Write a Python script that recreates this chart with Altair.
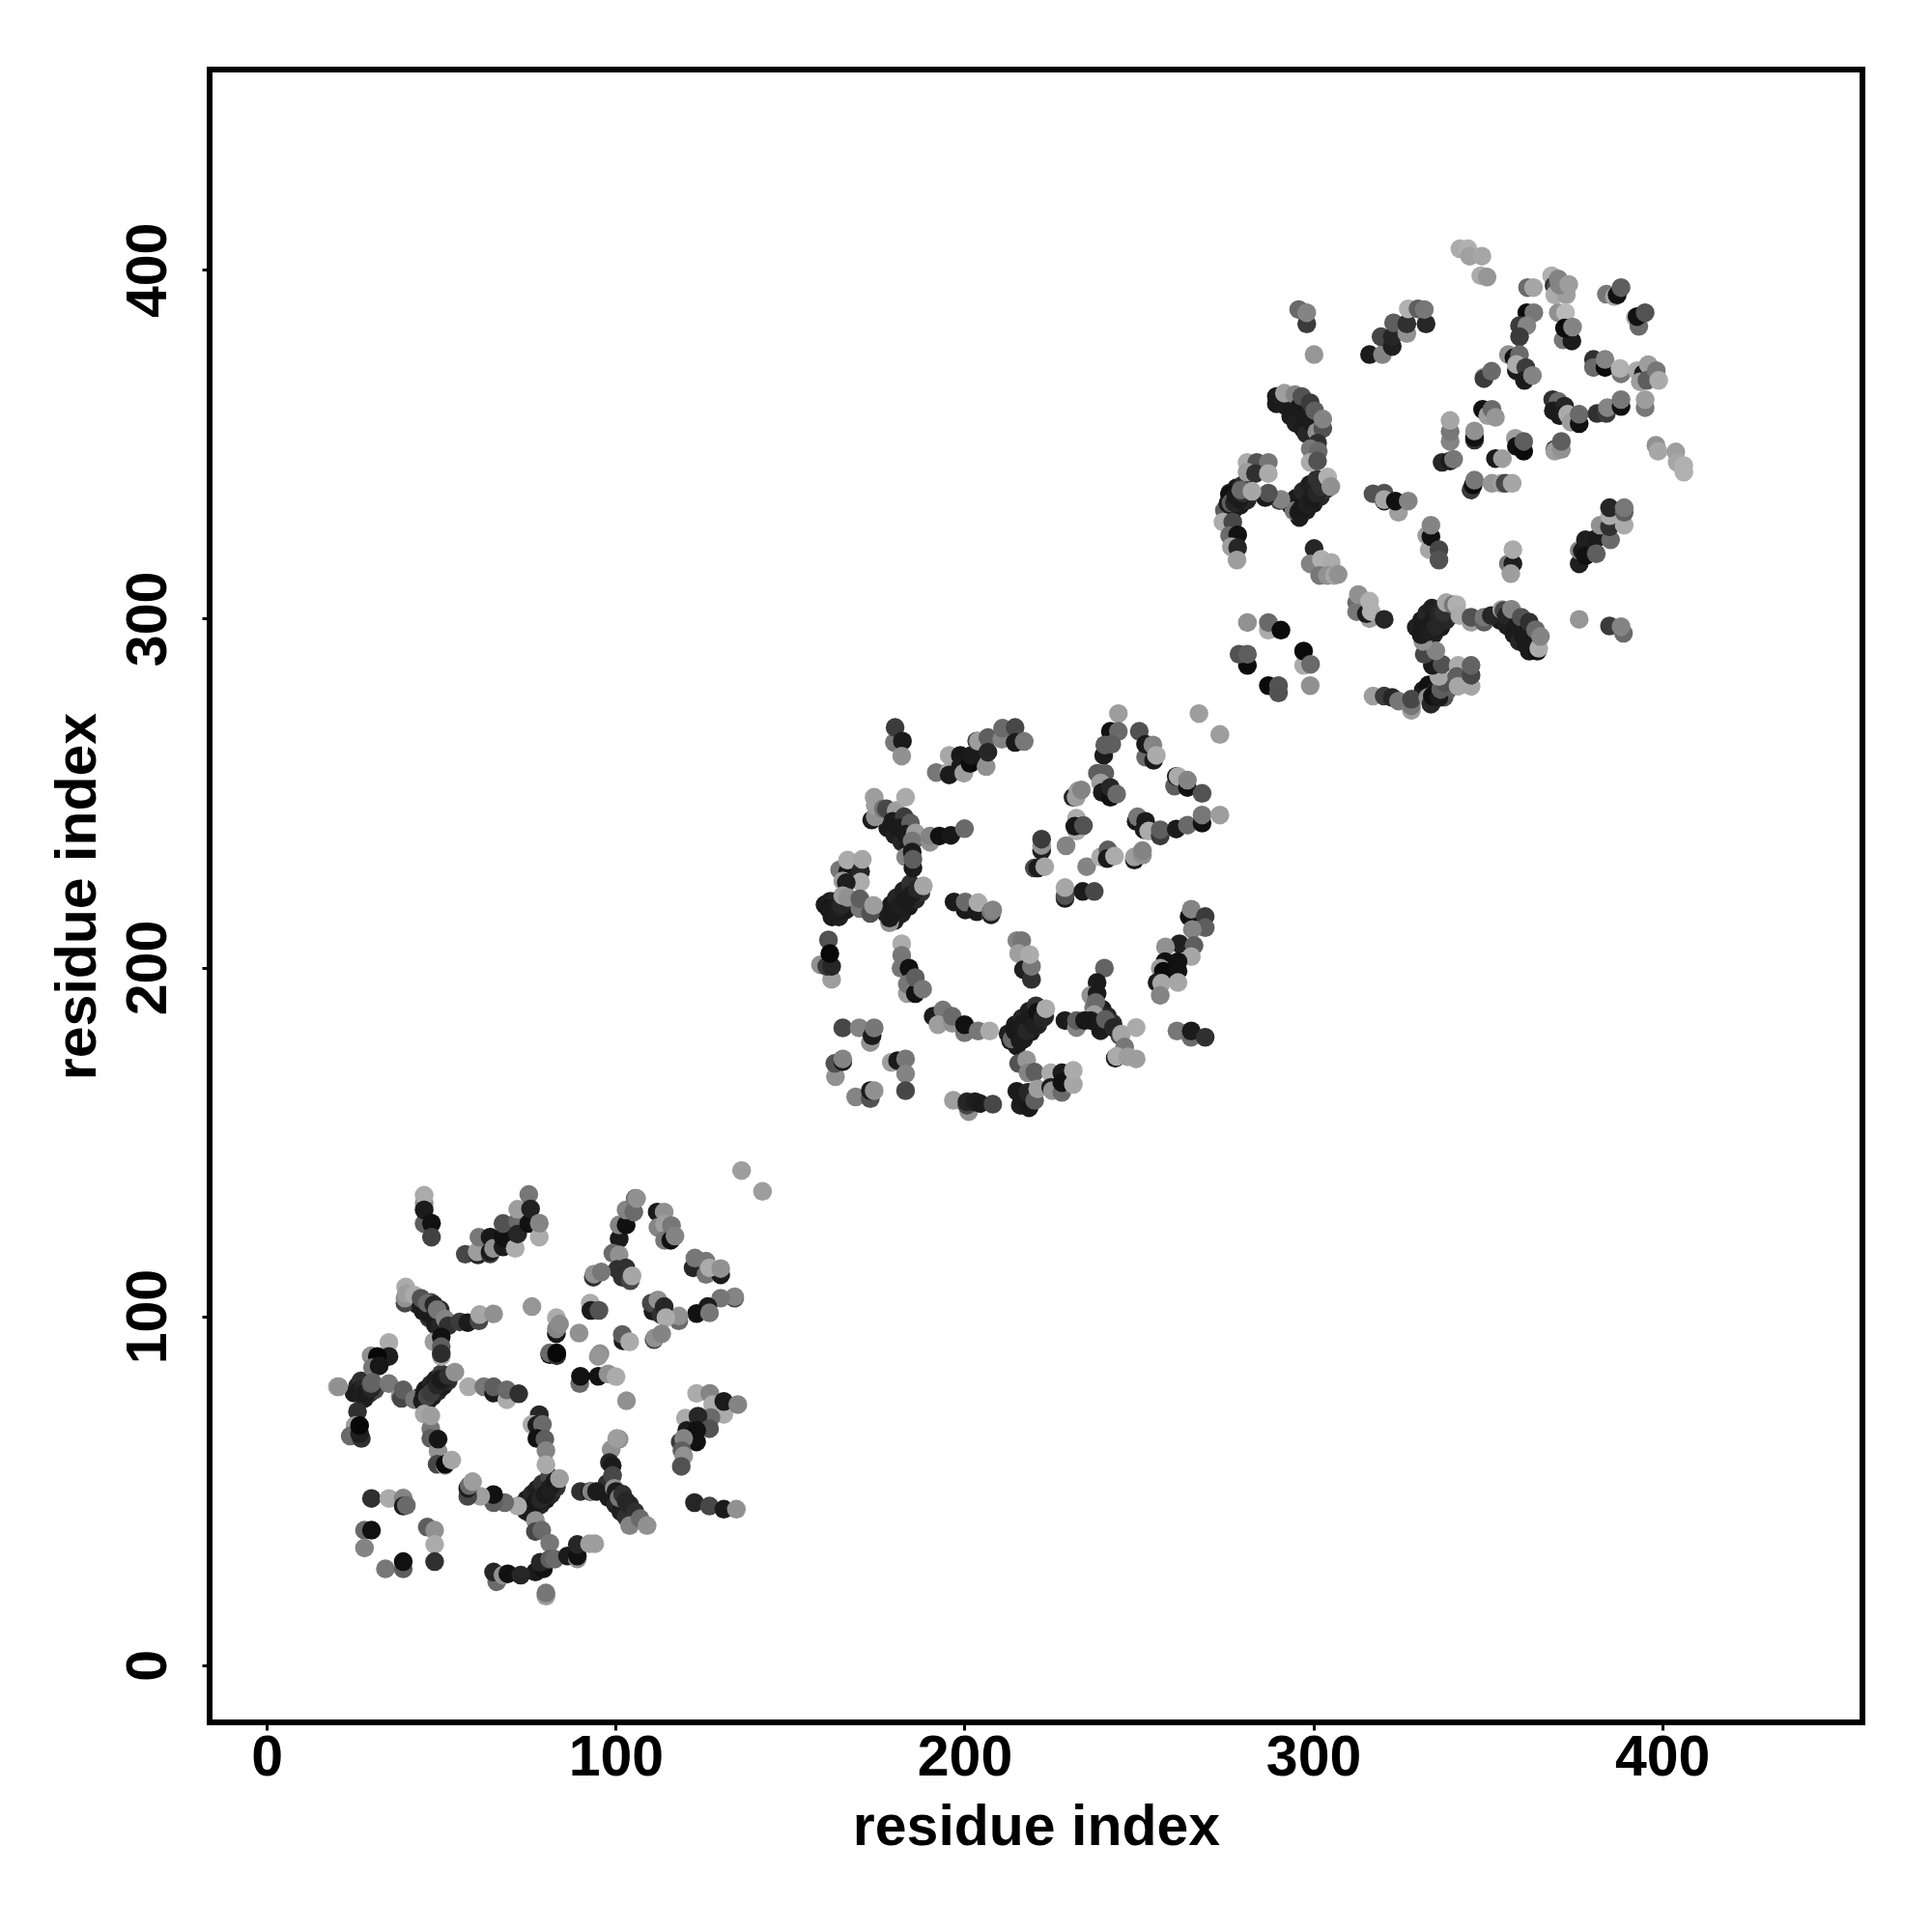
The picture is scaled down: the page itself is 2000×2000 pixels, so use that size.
import altair as alt
import pandas as pd

tick_values = [0, 100, 200, 300, 400]
axis_title = "residue index"

# (residue x, residue y, lightness of the grey)
under_points = [
(46,75.5,.12),(47.5,77,.1),(49,78.5,.15),(50.5,80,.1),(52,81.5,.2),(44,77,.2),(45.5,79,.1),(47,80.5,.15),(48.5,82,.12),(50,83.5,.25),
(75.5,43.5,.12),(77,45,.1),(78.5,46,.15),(80,47.5,.1),(81.5,49,.15),(83,51,.2),(73,46,.15),(74.5,47.5,.1),(76,49,.15),(77.5,50.5,.12),(79,52,.2),(81,54,.3),
(25,78,.1),(26,80,.15),(28,76.5,.12),(29.5,78,.2),(31,79,.3),(27,81.5,.2),
(43,103.5,.15),(44.8,101.5,.1),(46.5,99.5,.2),(48.3,97.5,.12),(47,104,.3),(48.8,100,.2),(50.5,99.5,.15),
(160,218,.1),(161.5,219,.12),(163,219,.15),(162,214.5,.1),(164,214.5,.12),(166,216.5,.1),
(180,213.5,.1),(182,215.5,.12),(184,217.5,.1),(186,219.5,.15),(187.5,221.5,.2),(177.5,215.5,.12),(179,218,.1),(180.5,220,.15),(182.5,222,.12),(184.5,224,.2),
(178,240,.1),(180,238,.12),(182,236,.15),(184,234.5,.1),(181.5,241.5,.15),(186,237,.2),
(215,177.5,.1),(217,179.5,.12),(219,181.5,.1),(221,183.5,.15),(223,186,.2),(212.5,181,.12),(214.5,183.5,.1),(216.5,185.5,.15),(218.5,187.5,.12),(220.5,189,.2),
(215,164.5,.1),(216,160.5,.12),(218.5,159.8,.1),(219.5,163,.2),
(239.5,188,.1),(241,186,.15),(242.5,184,.2),(244.5,180.5,.3),(237,188.5,.5),
(296,329,.1),(298,331,.12),(300,333,.1),(302,335,.15),(303.5,337,.2),(293.5,332.5,.12),(295,334.5,.1),(297,336.5,.15),(299,338.5,.12),(301,340,.2),
(274.5,331,.4),(275.5,333,.1),(277,331,.12),(279,332.5,.1),(281,334,.15),(276,336,.15),(278,337.5,.1),(280,338.5,.2),
(332.5,294,.1),(334.5,295.5,.12),(336.5,297.5,.1),(338,299.5,.15),(339.5,301,.2),(329.5,297.5,.12),(331,299.5,.1),(332.5,301.5,.15),(334,303,.12),
(331.5,279.5,.1),(333,281,.05),(335,279.5,.1),(337.5,277.5,.35),(338.5,279.5,.4),
(293.5,358,.1),(295,356,.12),(297,354.5,.1),(298,353,.15),(292,361,.1),
(353.5,299.5,.1),(355.5,298,.12),(357.5,295.5,.1),(359,293.5,.15),(361,292.5,.1),
(97.5,52,.2),(98,48,.1),(100,46,.15),(101.5,44,.12),(103,42.5,.2),
]

cluster_one = [
(45.1,126.6,.4),(45.1,132.4,.6),(45.1,134.7,.7),(45.1,130.5,.1),(47.2,126.7,.05),(47.2,122.7,.28),
(56.9,117.8,.3),(60.5,117.6,.15),(60.3,118.5,.65),(60.8,122.7,.5),(64.0,117.9,.25),(64.0,118.5,.1),(64.0,122.7,.08),(65,119.5,.6),(67.7,119.9,.1),(67.7,122.7,.05),(67.7,126.6,.35),(71.2,119.5,.7),(71.9,127.3,.45),(71.9,123.6,.15),(71.9,130.7,.65),(75.1,134.9,.5),(75.1,126.6,.05),(75.6,130.8,.13),(78.1,122.7,.7),(78.1,126.7,.55),
(39.6,103.8,.3),(39.8,108.4,.7),(39.6,105.2,.6),(40,106.5,.65),(42.3,106.1,.7),(44.2,102.8,.1),(44.2,105.2,.35),(46,101,.1),(46,103.8,.45),(47.9,99.6,.1),(47.9,103.3,.15),(49.7,97.3,.15),(49.7,101.9,.18),(48.8,101.9,.5),(51.1,99.2,.55),(52,97.3,.2),(55.3,98.4,.25),(57.6,98.2,.1),(60.8,98.7,.3),(61,100.5,.68),(65,100.7,.6),
(47.9,92.7,.65),(50,94.1,.05),(50,91.3,.4),(50,88.5,.7),(50,89.3,.18),
(76,102.8,.62),(83,95,.08),(83,99.6,.7),(83,96.4,.55),(83.9,97.8,.58),(81.1,89,.05),(81.1,89.5,.45),(83.1,88.7,.2),(83.1,89.5,.02),
(20.2,79.8,.7),(20.6,79.8,.6),(29.9,88.7,.6),(35,92.5,.7),(35,88.5,.12),(31.7,88.5,.02),(30.3,85.3,.5),(32.2,85.8,.08),
(26.2,78.4,.1),(27.6,79.3,.15),(27.1,77.5,.12),(28.5,77.9,.1),(29.9,79.3,.15),(29.9,80.7,.4),(30.3,81.1,.42),(35,80.7,.5),
(26,72.7,.2),(25.3,68.7,.65),(23.9,65.7,.45),(27.1,65,.2),(26.6,66.4,.12),(26.6,68.7,.02),
(38.2,77,.6),(38.6,76.5,.3),(39.1,78.9,.4),(42.3,76.1,.5),(44.6,75.6,.1),(45.1,77.5,.08),(46,77,.3),(47.4,78.9,.1),(47,78,.25),(48.8,80.3,.15),(50.6,81.7,.12),(49.7,82,.1),(52,83,.2),(53.9,84,.6),
(45.1,72,.68),(47,67.8,.5),(47,71.5,.65),(47,65,.4),(49.1,61.3,.6),(49.1,64.8,.07),(48.8,57.6,.3),(51.1,57.2,.7),(51.1,57.6,.03),(53,58.8,.68),
(57.8,79.8,.7),(62.2,79.8,.5),(65,78,.1),(65,79.8,.4),(68.8,76.1,.7),(68.8,78.9,.45),(72.2,77.8,.2),
(78.1,71.8,.15),(76,69,.7),(77.4,68.8,.1),(79,69,.45),(77.4,65,.05),(79.7,64.8,.4),(80,61.5,.55),(80,57.5,.7),
(74.2,44.3,.1),(75.6,45.2,.1),(77,46.6,.08),(78.4,47.5,.15),(79.7,48.9,.1),(81.1,50.7,.12),(82.5,52.6,.1),(83.9,53.5,.65),(71.9,45.6,.7),(68.2,46.6,.45),(65,46.6,.4),(65,48.9,.05),(61.3,48.4,.65),(57.6,48.4,.3),(57.6,50.7,.1),(58,51.5,.45),(59,52.6,.65),
(77,41.5,.6),(77,38.3,.3),(78.8,38.7,.45),(81.1,35,.5),(77,26.7,.1),(79.3,27.6,.05),(78.4,29.5,.15),(81.1,30.4,.4),(82.5,30.4,.45),(86.2,31.3,.1),(89,30.5,.6),(89,31.3,.05),(89,34.6,.15),(92.5,34.8,.65),(94,34.8,.65),(80,19.8,.65),(80,20.7,.5),
(65.9,23.9,.45),(65,26.7,.15),(67.7,25.8,.6),(69.1,26.2,.05),(72.8,25.8,.15),
(30,47.8,.2),(35,47.8,.7),(39.1,47.9,.55),(39.1,45.6,.1),(40,45.8,.45),(28,38.7,.45),(30,38.7,.05),(28,33.6,.55),(34,27.6,.5),(39.1,27.6,.4),(39.1,29.7,.05),(46,39.6,.4),(48.1,38.7,.6),(48.1,34.6,.7),(48.1,29.7,.2),
(136.1,141.8,.65),(142.1,135.8,.65),
(101,122.2,.1),(101,126.2,.55),(103,126.2,.05),(103,130.5,.55),(105.2,129.9,.45),(105.6,133.8,.45),(106,133.8,.6),
(111.9,129.9,.1),(112.1,125.5,.55),(113.9,129.9,.6),(114,126.4,.65),(116,126,.5),(114,121.8,.5),(115.8,121.8,.05),(117,123,.55),
(99.2,118.1,.45),(101,117.6,.6),(100.5,113.5,.2),(93.6,111.2,.2),(93.8,112.1,.6),(95.9,112.7,.5),(102.9,113.9,.2),(101.9,111.2,.2),(104.2,110.2,.3),(104.7,111.6,.68),
(122.2,113.9,.15),(122.7,116.7,.5),(125.9,112,.5),(125.9,115.8,.5),(130.1,111.9,.1),(126.9,113.9,.7),(130.1,113.7,.6),
(134.1,105.2,.25),(134.1,105.6,.55),(130.1,105.2,.5),(126.4,102.8,.1),(123.2,100.8,.05),(126.9,101,.5),
(118.1,98.7,.45),(118.1,100.1,.6),(110.7,101.5,.1),(110.2,103.8,.3),(112.1,104.7,.6),(113,100.5,.2),(113.9,102.8,.15),(114.4,99.6,.7),
(111,93.3,.3),(111.2,93.8,.6),(113.2,95,.55),(102.1,93,.1),(101.9,94.8,.4),(104,92.7,.7),
(92.7,103.8,.7),(92.9,101.7,.1),(95.2,101.7,.35),(89.5,95.2,.6),(95.5,89.3,.6),(95,88.5,.62),
(89.7,80.7,.45),(89.9,82.8,.05),(95,82.8,.05),(97.8,83.5,.6),(100.1,82.7,.7),(103.1,75.8,.6),(101,64.8,.6),
(123.2,77.9,.7),(127,77.9,.55),(131,71.9,.7),(127.8,74.7,.7),(131,75.6,.1),(135,74.7,.55),(120,70.8,.7),(127.3,71,.45),(123.6,71.4,.15),(126.9,67.8,.35),(120.4,67.3,.1),(123.2,67.3,.05),(123.2,64,.05),(118.5,64,.25),(119.5,65,.55),(119,61.5,.4),(119.5,60,.6),(118.8,57,.35),
(122.6,46.6,.15),(126.9,45.6,.3),(131,44.7,.1),(134.6,44.7,.6),
(89.9,49.8,.2),(92.7,49.8,.1),(93.1,49.8,.55),(94.5,49.8,.1),(98.7,61.8,.6),(100.3,65,.65),(98.2,58.1,.15),(99,57.2,.1),(99.1,54.4,.3),(99.6,50.7,.6),(100.1,49.8,.1),(101,48,.5),(102,49,.2),(103,47,.15),(104,46,.15),(105.5,44,.2),(104,40,.55),(107,42,.45),(109,40,.6),
]

cluster_two = [
(179.9,264.5,.5),(180.1,268.8,.25),(182.2,264.9,.1),(182,260.6,.6),
(191.9,255.9,.5),(195.6,256.2,.7),(195.6,255.2,.1),(195.6,260.8,.68),(198.8,260.8,.08),(198.8,257.6,.1),(199.8,255.7,.65),(201.6,258.5,.03),(202,260.8,.1),(203.5,264.9,.3),(204,264.9,.65),(206.2,257.6,.6),(206.7,265.9,.4),(206.7,261.7,.15),(210.7,265.4,.55),(210.9,268.6,.45),(214.5,268.8,.3),(214.5,264.5,.1),(217.1,264.8,.5),
(173.4,242.3,.1),(174.4,243.2,.6),(174.4,246.5,.65),(174.1,248.8,.65),(176.7,245.5,.5),(177.6,245.5,.3),(180.4,245,.65),(183.1,248.8,.7),(179.4,241.9,.1),(182.7,243.2,.25),(181.3,240,.1),(184.5,241.4,.4),(183.1,238.2,.1),(185.9,238.6,.65),(185,236.3,.5),(190.1,235.9,.6),(190.1,237.7,.55),(192.8,237.7,.05),(196.1,237.9,.08),(200,239.8,.45),
(183.1,231.7,.55),(185.2,228.5,.1),(185,233.1,.1),(185.2,231,.4),
(164.2,228,.5),(166.5,227.5,.08),(166.5,230.8,.7),(170.2,227.5,.15),(170.7,231,.68),(170.2,224.5,.7),(165.1,224.8,.65),(166.1,224.3,.12),
(161,216.9,.08),(162,216.5,.1),(162.8,216,.1),(163.8,216.9,.12),(164.7,217.8,.15),(165.1,220.6,.65),(166.5,220.1,.6),(170,216.9,.5),(170,219.7,.4),(173,215.5,.35),(173.9,217.8,.65),
(178.5,212.8,.6),(178.5,214.2,.1),(179.9,216,.1),(181.3,217.9,.12),(183.1,219.2,.1),(185,221.1,.1),(186.4,222.5,.15),(188.2,223.4,.68),
(197,218.8,.1),(200.2,216.5,.1),(200.2,218.8,.45),(203.5,216,.1),(203.9,218.6,.7),(207.6,215,.65),(207.6,215.2,.1),(207.6,216,.5),(208.1,216.5,.55),
(158.7,200.8,.6),(161,207.9,.35),(161.9,196.6,.65),(160.5,200.3,.25),(161.9,200.3,.15),(161.4,204,.02),
(182,206.8,.7),(182,203.5,.5),(181.8,199.8,.5),(184.1,199.8,.05),(183.6,192.5,.65),(183.6,195.2,.5),(185.9,192.5,.05),(185.9,197.1,.4),(188,193.8,.5),
(215,207.7,.55),(216.4,207.7,.5),(215.5,204,.65),(216.9,199.4,.12),(219.2,196.6,.2),(219.2,200.3,.5),(218.7,203.7,.7),
(244.1,272.8,.65),(241.8,267.7,.05),(244.1,267.7,.45),(250.1,267.7,.35),(239.9,260.8,.1),(240.2,263.8,.4),(242.2,264,.4),(251.9,260.3,.45),(251.9,264,.1),(254,263.8,.55),(254.2,259.4,.1),(255,260.8,.7),
(267.2,272.8,.65),(273.2,266.8,.65),
(238.1,255.7,.4),(240.2,255.7,.4),(239,252.9,.65),(239.5,250.2,.1),(241.8,248.8,.05),(241.8,251.6,.15),(243.6,249.7,.45),
(231.1,248.8,.15),(232,248.8,.65),(232.5,250.6,.65),(233.5,250.9,.55),
(232.1,242.8,.7),(232.1,239.1,.7),(231.6,240.5,.08),(234.1,240.7,.35),(229.1,234.9,.55),(235,228.9,.55),
(239,231.7,.7),(241.1,233.7,.4),(240.9,231.2,.1),(243,231.9,.7),(248.7,230.8,.1),(248.7,231.7,.65),(251,232.2,.6),(251,233.5,.55),
(249.2,241.9,.1),(249.6,243.2,.5),(251.5,239.5,.1),(251.9,241.9,.1),(252.8,239.1,.7),(256.1,237.7,.25),(256.1,239.5,.4),(260.7,239.7,.1),(263.9,240.8,.45),(268.1,241.4,.05),(268.1,243.7,.5),(273.2,243.7,.65),
(260.2,252,.4),(260.7,254.8,.1),(261.2,254.8,.7),(263.9,251.6,.05),(263.9,253.7,.55),(268.1,249.9,.35),
(222.1,233.5,.12),(222.1,235,.6),(222.1,236.8,.25),(220,228.5,.3),(221,228.5,.1),(223,228.9,.68),
(228.8,219.8,.1),(228.8,220.6,.35),(228.8,222.9,.68),(233.9,221.8,.1),(237.2,221.8,.3),
(264.4,214.6,.05),(265,216.7,.55),(269,214.6,.25),(269,211.4,.4),(265.3,210.9,.55),(261.6,206.8,.12),(265.8,206.3,.4),(257.6,205.9,.6),(265,203.1,.68),(257.5,201.7,.05),(261.2,201.7,.05),(256.1,199.8,.65),(257,198.9,.03),(261.2,199,.05),(255.2,195.7,.1),(256.5,195.5,.68),(261.2,195.7,.68),(256.1,192,.55),
(260.9,181.8,.5),(264.9,180,.45),(265,181.8,.1),(269,180,.2),
(240.1,199.8,.42),(238,195.7,.1),(236.2,192,.6),(238,192.5,.1),(237.6,190,.45),(237.2,186.5,.65),(236.2,184.8,.1),(228.8,184.8,.1),(232.1,182.8,.55),(232.1,184.8,.4),(234.4,184.8,.08),(239,181.9,.1),(240.4,185.1,.4),(242.7,182.8,.15),(245,180.9,.68),(249.2,182.8,.7),(245.9,177.2,.5),(243.2,174,.1),(243.6,174.5,.7),(246.8,174.4,.65),(249.2,173.8,.65),
(191,186,.1),(193.8,187.8,.5),(192.4,183.6,.65),(196.5,184,.6),(196.5,186,.45),(200,181.3,.5),(200,183.6,.05),(203.9,181.8,.5),(207.2,181.8,.7),
(213.2,179,.1),(213.6,179.5,.45),(214.5,181.8,.08),(215.9,179,.1),(216.4,183.6,.1),(217.8,181.8,.15),(218.7,185.5,.1),(220.1,183.6,.12),(221,187.3,.05),(222.4,185.5,.15),(223.3,188.2,.7),
(215.5,172.5,.35),(217.8,173.5,.62),(218.2,169.8,.55),(220.1,170,.4),
(216.4,162.4,.1),(218.2,161.5,.08),(217.3,163.8,.1),(218.2,164.2,.15),(220.1,161.9,.4),(221,165.2,.65),
(224.7,169.8,.7),(224.7,165.6,.1),(225.2,164.7,.6),(227.9,164.2,.45),(227.9,169.8,.1),(227.9,167,.05),(231.2,166.5,.68),(231.2,170.5,.7),
(196.8,161.9,.65),(201.2,158.7,.6),(200.7,160.5,.3),(200.7,161.5,.15),(203,161.5,.12),(204.4,161,.1),(208.1,160.8,.3),
(165.1,182.7,.3),(169.8,182.7,.55),(173,178.5,.6),(173.5,180.4,.1),(174.1,182.7,.5),(163,168.7,.6),(162.8,172.5,.35),(165.1,173,.1),(165.1,173.8,.55),(179,172.8,.65),(180.8,173.3,.1),(183.1,173.8,.5),(183.1,169.5,.55),(183.1,164.7,.3),(168.8,162.9,.55),(173,162.4,.35),(173,164.7,.1),(174.1,164.7,.6),
]

cluster_three = [
(342,406,.7),(344.3,406,.72),(344.8,403.9,.66),(348.3,403.9,.68),(348,398.3,.7),(349.8,397.9,.62),
(298.1,384.5,.25),(295.8,388.6,.45),(298.1,387.7,.55),(300.2,375.7,.62),
(316.1,375.7,.1),(319.8,375.7,.55),(319.4,380.8,.3),(322.6,378,.12),(322.6,380.8,.15),(323,384.8,.4),(326.8,381.7,.6),(326.8,384.5,.2),(327.2,388.8,.72),(332.3,384.5,.15),(330,388.8,.4),(331.8,388.6,.5),
(289.4,363.7,.1),(289.4,361.6,.1),(291.7,364.6,.65),(294.7,364.2,.55),(295.8,360.5,.1),(296.7,363.7,.35),(297.7,358.6,.1),(299.1,361.9,.25),(299.5,356.3,.1),(300.4,359.6,.4),(301,353.5,.6),(302.7,354.5,.35),(302.7,357.2,.55),
(301.2,350.3,.2),(299.1,348.7,.5),(301.4,348,.45),(299.1,344.8,.7),(301.2,345.2,.35),
(294.4,330.9,.5),(295.8,330.5,.1),(296.7,331.8,.08),(298.1,332.8,.12),(299.5,334.2,.1),(300.9,336,.15),(302.3,337.9,.2),(304.1,340.6,.72),(305,337.9,.6),
(290.3,333.8,.3),(290.7,334.2,.55),(286.2,334.7,.1),(287.1,336,.35),
(281,344.8,.7),(283.8,344.8,.35),(287.1,344.8,.5),(281,342,.65),(283.4,341.6,.2),(287.1,341.6,.7),
(276.0,335.5,.05),(276.4,333.2,.4),(277.4,333.2,.15),(277.8,335.1,.1),(278.7,334.2,.1),(279.7,336,.2),(279.2,336.9,.45),(282.4,336.5,.68),
(274.1,327.7,.7),(276.9,327.7,.3),(276,323.8,.45),(278.3,324,.05),(276.5,320.6,.65),(278.3,320.3,.15),(278.1,316.8,.65),
(300.2,320.1,.15),(299.1,315.7,.55),(302.3,317,.72),(305.1,316.1,.7),(301.8,312.4,.5),(304,312.4,.6),(306,312.4,.68),(307.1,312.7,.6),
(312.4,304.6,.45),(312.4,302,.5),(312.9,306.9,.6),(316.1,300,.65),(315.2,301.4,.1),(316.1,305,.72),(316.6,302,.72),(320.3,299.8,.15),
(317.1,335.8,.35),(320.3,336,.35),(320.3,333.7,.1),(320.3,334.1,.68),(324.4,330.5,.65),(323.5,333.7,.05),(327.2,333.7,.55),
(333.2,319.8,.68),(332.5,323.8,.65),(333.7,323.5,.05),(333.7,326.8,.55),(336,319.8,.3),(336,316.8,.35),
(281.1,298.9,.6),(287.1,296.7,.7),(287.1,298.9,.45),(290.7,296.7,.03),(281.1,286.6,.03),(278.7,289.8,.35),(281.1,289.8,.4),(297.2,286.6,.7),(297.2,290.7,.03),(299.2,286.9,.45),(299.1,280.8,.6),(287.1,280.8,.03),(290,278.7,.35),(290,280.8,.35),
(317.1,277.8,.65),(320.3,277.8,.25),(322.6,277.4,.15),(324.4,276.4,.5),(328.1,273.7,.65),(328.1,275,.5),(328.1,276.9,.3),
(332.8,277.4,.6),(333.7,275.5,.15),(334.1,277.8,.05),(336,277.4,.1),(336.5,279.7,.4),(337.8,281.7,.35),(336,283.4,.68),
(334.1,286.6,.1),(336.9,286.9,.35),(331.8,289.8,.3),(335.1,290.8,.55),
(341.5,286.6,.7),(341.1,283.4,.4),(341.5,280.6,.68),(345.2,280.6,.68),(345.2,283.8,.3),(345.2,286.6,.42),
(331.4,293.5,.6),(330.9,295.4,.1),(331.8,297.2,.1),(333.2,296.3,.12),(334.1,299,.1),(335.1,297.7,.15),(336,301.4,.15),(336.9,299.5,.15),(337.4,301.8,.2),(338.1,304.6,.68),(340.1,304,.5),(341.1,304,.72),(342,300.9,.7),
(345.2,299,.65),(345.2,300.4,.35),(348.9,299,.4),(348.9,300.4,.5),(351,300.9,.15),
(354,302.6,.65),(354.6,302.3,.3),(355.4,300.9,.15),(356.8,302.7,.55),(358.2,297.7,.1),(359.6,300.4,.35),(360,295.4,.1),(361.9,299,.2),(363.7,296.8,.45),(361.9,290.7,.1),(364.2,290.7,.05),(364.6,291.5,.7),(365.1,294.9,.55),
(355.9,315.7,.5),(357.2,315.7,.12),(357.2,319.8,.7),(356.6,312.9,.65),
(376.2,299.8,.62),(384.9,297.9,.25),(388.9,295.8,.45),(388.2,297.7,.55),
(376.2,315.7,.12),(376.2,319.6,.55),(377.1,319.4,.1),(378,322.6,.12),(378,318,.05),(381.3,323.1,.1),(381.1,318.6,.4),(382.2,326.8,.6),(385.2,322.6,.45),(384.9,326.3,.2),(384.9,329.5,.7),(384.9,331.8,.15),(389.1,326.8,.7),(389.1,330.5,.4),(389.1,331.8,.5),
(361.4,394.9,.45),(363.1,394.9,.68),(368.3,398.3,.72),(369,395.5,.2),(369.7,395.1,.35),(370.2,397.4,.55),(369.2,392.8,.7),(372.5,392.8,.65),(370.6,395.6,.55),(373.2,395.8,.65),
(370.2,387.7,.6),(372.3,387.7,.75),(371.6,379.9,.5),(374.1,379.6,.1),(372,383.3,.03),(374.3,383.6,.55),
(384,393,.5),(386.3,392.3,.68),(387.1,392.8,.05),(388.2,394.9,.4),
(392.3,386.3,.7),(393.3,383.8,.45),(392.8,386.6,.05),(395.1,387.7,.35),
(361.2,387.7,.03),(363.2,387.7,.5),(359.1,384,.25),(361.2,384,.55),(359.1,380.8,.25),
(355.9,375.7,.6),(357.5,374.8,.05),(359.1,375.7,.45),(358.2,371.1,.1),(358.2,372.9,.7),(360.9,372,.25),(360.5,368.3,.1),(362.8,369.7,.55),
(348.9,369.2,.65),(348.9,368.8,.25),(351.1,370.9,.45),
(380.3,374.3,.2),(380.3,372,.45),(383.6,372,.03),(383.6,374.3,.55),(388.2,370.2,.5),(387.9,371.7,.72),
(392.8,371.1,.7),(394.6,370.2,.1),(393.7,367.9,.65),(396,372.8,.65),(395.6,368.3,.4),(398.3,371.1,.5),(399,368.3,.7),
(395.1,360.5,.5),(395.1,362.8,.65),
(368.6,362.8,.2),(370.2,362.3,.45),(368.8,359.6,.1),(372,360.9,.15),(370.6,358.2,.1),(372.9,358.6,.7),(373.9,356.3,.65),(376.2,355.9,.05),(376.2,358.6,.45),
(381.3,358.8,.2),(384,358.8,.25),(384.3,360.5,.55),(388.2,360.8,.05),(388.2,362.8,.5),
(369.2,348.5,.25),(369.2,348,.65),(371.1,348.5,.6),(371.1,350.8,.4),
(398.2,349.7,.6),(398.8,348,.68),(403.9,347.8,.65),(404.3,344.8,.68),(406.2,342,.72),(406.2,343.9,.72),
(339.2,350.8,.55),(339.2,353.6,.5),(339.2,356.8,.68),(346.2,351.2,.2),(346.2,352,.05),(346.2,353.8,.6),(336.9,344.8,.15),(339.2,345.2,.1),(340.2,345.7,.5),
(348.5,360,.05),(350,358.2,.65),(351.2,360,.45),(352.2,357.7,.62),
(357.9,351.7,.65),(358.2,349.4,.05),(360.3,348,.03),(360.3,350.8,.4),
(352.2,345.9,.1),(354.2,345.9,.65),
(345.2,336.9,.25),(345.8,338.3,.03),(346.2,339.7,.5),(351.2,338.8,.62),(354,338.8,.65),(355,338.8,.3),(357,338.8,.68),
]

rows = [
    {"x": x, "y": y, "shade": s, "n": i}
    for i, (x, y, s) in enumerate(under_points + cluster_one + cluster_two + cluster_three)
]
df = pd.DataFrame(rows)

scale_x = alt.Scale(domain=[-16.4, 457.4], nice=False, zero=False)
scale_y = alt.Scale(domain=[-16.4, 457.4], nice=False, zero=False)

font = "Liberation Sans"

chart = (
    alt.Chart(df)
    .mark_circle(size=380, opacity=1)
    .encode(
        x=alt.X("x:Q", scale=scale_x, axis=alt.Axis(
            values=tick_values, title=axis_title, grid=False, domain=False,
            tickSize=8, tickWidth=3, tickColor="black", labelPadding=-1,
            labelFont=font, labelFontWeight="bold", labelFontSize=59, labelColor="black",
            titleFont=font, titleFontWeight="bold", titleFontSize=59, titleColor="black",
            titlePadding=13)),
        y=alt.Y("y:Q", scale=scale_y, axis=alt.Axis(
            values=tick_values, title=axis_title, grid=False, domain=False,
            tickSize=8, tickWidth=3, tickColor="black", labelPadding=26,
            labelAngle=270, labelAlign="center", labelBaseline="bottom",
            labelFont=font, labelFontWeight="bold", labelFontSize=59, labelColor="black",
            titleFont=font, titleFontWeight="bold", titleFontSize=59, titleColor="black",
            titlePadding=14)),
        color=alt.Color("shade:Q", scale=alt.Scale(domain=[0, 1], range=["#000000", "#ffffff"]), legend=None),
        order=alt.Order("n:Q"),
    )
    .properties(width=1711, height=1711, background="white",
                padding={"left": 43, "top": 64, "right": 5, "bottom": 5})
    .configure_view(stroke="black", strokeWidth=6)
)

chart.save("out.html", embed_options={"renderer": "svg", "actions": False})
